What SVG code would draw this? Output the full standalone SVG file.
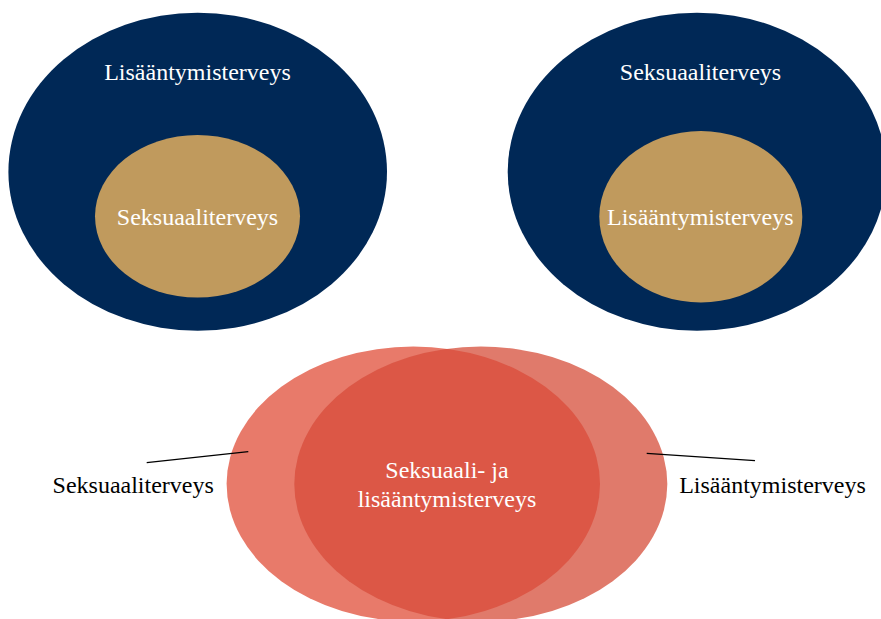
<svg xmlns="http://www.w3.org/2000/svg" width="881" height="619" viewBox="0 0 881 619">
<style>
.outer{fill:#002856}
.inner{fill:#C09A5D}
.t{font-family:"Liberation Serif","Times New Roman",serif;font-size:24px;text-anchor:middle}
.w{fill:#ffffff}
.k{fill:#000000}
.conn{stroke:#000;stroke-width:1.3;fill:none}
</style>
<defs>
<clipPath id="clipL"><ellipse cx="413.3" cy="484" rx="186.7" ry="137.5"/></clipPath>
</defs>
<rect width="881" height="619" fill="#ffffff"/>
<g id="left-diagram">
<ellipse class="outer" cx="197.7" cy="171.7" rx="189.3" ry="159"/>
<text class="t w" x="197.5" y="80">Lisääntymisterveys</text>
<g id="left-inner">
<ellipse class="inner" cx="197.5" cy="216.3" rx="102.5" ry="81.3"/>
<text class="t w" x="197.5" y="225">Seksuaaliterveys</text>
</g>
</g>
<g id="right-diagram">
<ellipse class="outer" cx="697" cy="171.7" rx="189.3" ry="159"/>
<text class="t w" x="700.5" y="80">Seksuaaliterveys</text>
<g id="right-inner">
<ellipse class="inner" cx="700.8" cy="216.7" rx="101.5" ry="85.7"/>
<text class="t w" x="700.3" y="225">Lisääntymisterveys</text>
</g>
</g>
<g id="venn">
<ellipse id="venn-left" cx="413.3" cy="484" rx="186.7" ry="137.5" fill="#E87A6A"/>
<ellipse id="venn-right" cx="480.8" cy="484" rx="186.5" ry="137.5" fill="#E07A6B"/>
<ellipse id="venn-overlap" cx="480.8" cy="484" rx="186.5" ry="137.5" fill="#DC5746" clip-path="url(#clipL)"/>
<text class="t w" x="447" y="478.3">Seksuaali- ja</text>
<text class="t w" x="447" y="506.7">lisääntymisterveys</text>
</g>
<g id="label-left">
<text class="t k" x="133.2" y="493.3">Seksuaaliterveys</text>
</g>
<g id="label-right">
<text class="t k" x="772.5" y="493.3">Lisääntymisterveys</text>
</g>
<g id="connectors">
<line class="conn" x1="146.7" y1="462.7" x2="248.3" y2="451.7"/>
<line class="conn" x1="646.7" y1="453.3" x2="755" y2="460.7"/>
</g>
</svg>
